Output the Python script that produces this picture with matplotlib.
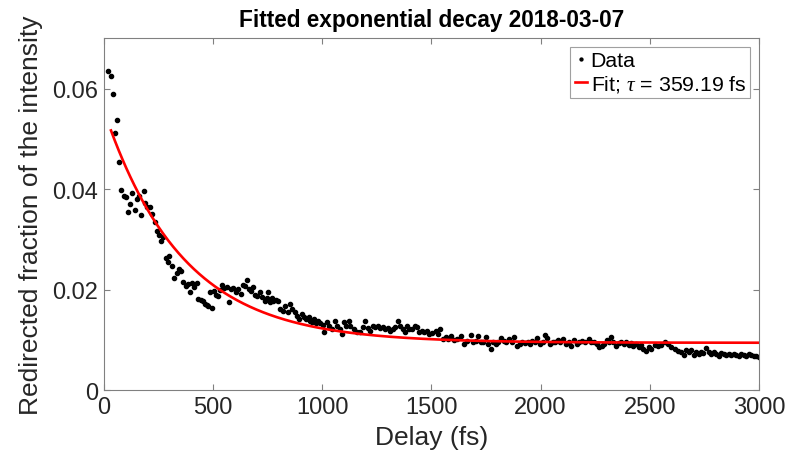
import matplotlib
matplotlib.use('Agg')
import matplotlib.pyplot as plt
import numpy as np

plt.rcParams['font.family'] = ['Liberation Sans', 'DejaVu Sans']
plt.rcParams['mathtext.fontset'] = 'custom'
plt.rcParams['mathtext.it'] = 'Liberation Serif:italic'

# Messpunkte: Verzoegerung (fs) und umgelenkter Anteil der Intensitaet
delay = [
    18, 31, 40, 51, 61, 69, 79, 90, 100, 110,
    121, 130, 141, 152, 161, 171, 182, 190, 199, 210,
    222, 233, 242, 252, 262, 272, 283, 291, 300, 312,
    323, 333, 343, 352, 363, 374, 383, 393, 401, 413,
    424, 431, 444, 454, 462, 470, 478, 486, 495, 502,
    512, 521, 532, 542, 551, 562, 573, 583, 593, 603,
    616, 628, 638, 645, 654, 665, 674, 684, 692, 703,
    715, 725, 738, 745, 753, 761, 768, 776, 786, 796,
    807, 819, 830, 841, 853, 860, 873, 883, 894, 906,
    917, 927, 937, 945, 952, 961, 971, 980, 991, 1003,
    1010, 1021, 1029, 1044, 1057, 1067, 1079, 1090, 1098, 1110,
    1121, 1128, 1144, 1159, 1174, 1187, 1197, 1209, 1220, 1231,
    1243, 1255, 1266, 1277, 1289, 1301, 1312, 1323, 1335, 1347,
    1358, 1369, 1378, 1389, 1399, 1411, 1424, 1434, 1445, 1457,
    1468, 1480, 1491, 1503, 1519, 1531, 1541, 1553, 1565, 1577,
    1589, 1603, 1618, 1634, 1649, 1664, 1680, 1690, 1703, 1713,
    1725, 1737, 1751, 1760, 1771, 1782, 1794, 1806, 1820, 1833,
    1843, 1856, 1868, 1880, 1894, 1905, 1917, 1929, 1941, 1952,
    1963, 1975, 1985, 1996, 2009, 2019, 2031, 2044, 2055, 2067,
    2079, 2090, 2104, 2116, 2128, 2139, 2154, 2165, 2177, 2192,
    2205, 2220, 2231, 2246, 2257, 2269, 2281, 2292, 2303, 2315,
    2323, 2333, 2346, 2358, 2369, 2381, 2392, 2404, 2414, 2425,
    2438, 2449, 2460, 2471, 2483, 2496, 2506, 2522, 2537, 2553,
    2568, 2583, 2598, 2614, 2629, 2644, 2655, 2667, 2679, 2690,
    2702, 2713, 2725, 2736, 2746, 2759, 2771, 2782, 2794, 2805,
    2817, 2828, 2840, 2851, 2863, 2874, 2886, 2897, 2909, 2920,
    2932, 2943, 2955, 2966, 2976, 2989, 2999,
]
fraction = [
    0.0634, 0.0625, 0.0589, 0.0512, 0.0538, 0.0453, 0.0399, 0.0386, 0.0384, 0.0354,
    0.0370, 0.0393, 0.0358, 0.0380, 0.0387, 0.0349, 0.0396, 0.0372, 0.0364, 0.0365,
    0.0350, 0.0334, 0.0316, 0.0308, 0.0296, 0.0305, 0.0263, 0.0255, 0.0267, 0.0247,
    0.0223, 0.0233, 0.0240, 0.0236, 0.0215, 0.0207, 0.0211, 0.0195, 0.0213, 0.0205,
    0.0213, 0.0182, 0.0179, 0.0177, 0.0172, 0.0169, 0.0167, 0.0196, 0.0163, 0.0197,
    0.0190, 0.0187, 0.0200, 0.0209, 0.0203, 0.0205, 0.0176, 0.0201, 0.0203, 0.0195,
    0.0201, 0.0191, 0.0209, 0.0207, 0.0219, 0.0201, 0.0198, 0.0205, 0.0189, 0.0188,
    0.0195, 0.0185, 0.0178, 0.0184, 0.0195, 0.0175, 0.0183, 0.0178, 0.0180, 0.0178,
    0.0162, 0.0158, 0.0167, 0.0155, 0.0171, 0.0162, 0.0155, 0.0148, 0.0142, 0.0152,
    0.0145, 0.0142, 0.0145, 0.0138, 0.0135, 0.0142, 0.0134, 0.0138, 0.0134, 0.0130,
    0.0116, 0.0135, 0.0128, 0.0122, 0.0138, 0.0128, 0.0122, 0.0111, 0.0136, 0.0128,
    0.0138, 0.0128, 0.0122, 0.0115, 0.0115, 0.0125, 0.0137, 0.0123, 0.0118, 0.0128,
    0.0125, 0.0127, 0.0123, 0.0125, 0.0122, 0.0123, 0.0118, 0.0122, 0.0125, 0.0138,
    0.0128, 0.0122, 0.0115, 0.0128, 0.0122, 0.0122, 0.0128, 0.0125, 0.0115, 0.0118,
    0.0115, 0.0118, 0.0112, 0.0114, 0.0118, 0.0112, 0.0122, 0.0102, 0.0105, 0.0102,
    0.0108, 0.0100, 0.0102, 0.0107, 0.0092, 0.0098, 0.0110, 0.0095, 0.0098, 0.0107,
    0.0096, 0.0095, 0.0105, 0.0092, 0.0082, 0.0095, 0.0092, 0.0096, 0.0103, 0.0098,
    0.0095, 0.0102, 0.0096, 0.0106, 0.0088, 0.0092, 0.0095, 0.0094, 0.0096, 0.0092,
    0.0098, 0.0095, 0.0103, 0.0092, 0.0096, 0.0110, 0.0103, 0.0092, 0.0096, 0.0096,
    0.0100, 0.0096, 0.0102, 0.0092, 0.0096, 0.0088, 0.0100, 0.0092, 0.0095, 0.0098,
    0.0095, 0.0102, 0.0095, 0.0096, 0.0092, 0.0085, 0.0088, 0.0092, 0.0100, 0.0095,
    0.0105, 0.0096, 0.0088, 0.0094, 0.0096, 0.0092, 0.0096, 0.0090, 0.0094, 0.0088,
    0.0092, 0.0085, 0.0090, 0.0082, 0.0078, 0.0085, 0.0082, 0.0090, 0.0088, 0.0090,
    0.0096, 0.0092, 0.0085, 0.0082, 0.0078, 0.0075, 0.0070, 0.0080, 0.0076, 0.0080,
    0.0070, 0.0075, 0.0072, 0.0076, 0.0074, 0.0083, 0.0075, 0.0072, 0.0076, 0.0072,
    0.0068, 0.0074, 0.0072, 0.0070, 0.0072, 0.0070, 0.0072, 0.0070, 0.0068, 0.0072,
    0.0070, 0.0068, 0.0072, 0.0070, 0.0067, 0.0068, 0.0065,
]

# Fit-Parameter: y = A * exp(-t / tau) + C
tau = 359.19
amp = 0.0462
offset = 0.0094
fit_start, fit_end = 32, 3000

t_fit = np.linspace(fit_start, fit_end, 500)
y_fit = amp * np.exp(-t_fit / tau) + offset

fig = plt.figure(figsize=(7.89, 4.64), dpi=100)
ax = fig.add_axes([0.1318, 0.1573, 0.830, 0.758])

ax.plot(delay, fraction, 'o', color='black', markersize=3.0, label='Data')
ax.plot(t_fit, y_fit, '-', color='red', linewidth=1.9,
        label=r'Fit; $\tau$ = %.2f fs' % tau)

ax.set_xlim(0, 3000)
ax.set_ylim(0, 0.07)
ax.set_xticks([0, 500, 1000, 1500, 2000, 2500, 3000])
ax.set_yticks([0, 0.02, 0.04, 0.06])
ax.set_yticklabels(['0', '0.02', '0.04', '0.06'])

grey = '#262626'
for s in ax.spines.values():
    s.set_color('#808080')
    s.set_linewidth(0.8)
ax.tick_params(direction='in', length=4, width=0.8, color='#808080',
               labelcolor=grey, labelsize=17, top=True, right=True, pad=4)

ax.set_title('Fitted exponential decay 2018-03-07', fontsize=16.3,
             fontweight='bold', color='black', pad=9)
ax.set_xlabel('Delay (fs)', fontsize=19, color=grey, labelpad=5)
ax.set_ylabel('Redirected fraction of the intensity', fontsize=19,
              color=grey, labelpad=7)

leg = ax.legend(loc='upper right', fontsize=15.3, fancybox=False,
                framealpha=1, edgecolor='#a0a0a0', borderpad=0.2,
                handlelength=0.6, handletextpad=0.15, labelspacing=0.15,
                borderaxespad=0.4, markerscale=0.7)
leg.get_frame().set_linewidth(0.8)
for txt in leg.get_texts():
    txt.set_color('black')

fig.savefig('out.png', dpi=100)
